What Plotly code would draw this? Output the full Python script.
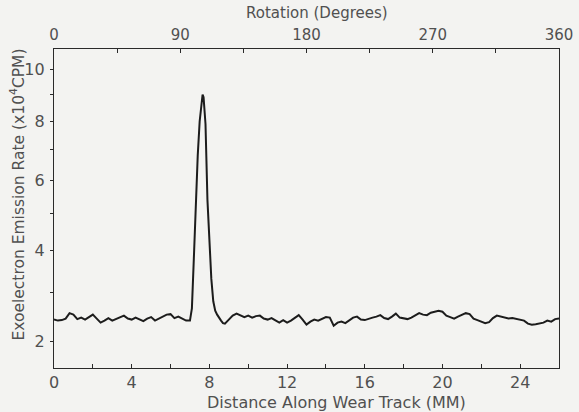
import numpy as np
import plotly.graph_objects as go

# Distance along wear track (mm) and exoelectron emission rate (x10^4 CPM)
distance_mm = [
    0.0, 0.2, 0.4, 0.6, 0.8, 1.0, 1.2, 1.4, 1.6, 1.8, 2.0, 2.2, 2.4, 2.6, 2.8,
    3.0, 3.2, 3.4, 3.6, 3.8, 4.0, 4.2, 4.4, 4.6, 4.8, 5.0, 5.2, 5.4, 5.6, 5.8,
    6.0, 6.2, 6.4, 6.6, 6.8, 7.0, 7.1, 7.2, 7.3, 7.4, 7.5, 7.6, 7.65, 7.7, 7.8,
    7.9, 8.0, 8.1, 8.2, 8.3, 8.4, 8.5, 8.6, 8.7, 8.8, 9.0, 9.2, 9.4, 9.6, 9.8,
    10.0, 10.2, 10.4, 10.6, 10.8, 11.0, 11.2, 11.4, 11.6, 11.8, 12.0, 12.2,
    12.4, 12.6, 12.8, 13.0, 13.2, 13.4, 13.6, 13.8, 14.0, 14.2, 14.4, 14.6,
    14.8, 15.0, 15.2, 15.4, 15.6, 15.8, 16.0, 16.2, 16.4, 16.6, 16.8, 17.0,
    17.2, 17.4, 17.6, 17.8, 18.0, 18.2, 18.4, 18.6, 18.8, 19.0, 19.2, 19.4,
    19.6, 19.8, 20.0, 20.2, 20.4, 20.6, 20.8, 21.0, 21.2, 21.4, 21.6, 21.8,
    22.0, 22.2, 22.4, 22.6, 22.8, 23.0, 23.2, 23.4, 23.6, 23.8, 24.0, 24.2,
    24.4, 24.6, 24.8, 25.0, 25.2, 25.4, 25.6, 25.8, 26.0,
]
emission_rate = [
    2.42, 2.40, 2.41, 2.44, 2.55, 2.52, 2.43, 2.46, 2.42, 2.47, 2.52, 2.44, 2.36, 2.40, 2.45,
    2.40, 2.43, 2.47, 2.50, 2.44, 2.42, 2.46, 2.43, 2.39, 2.44, 2.47, 2.40, 2.44, 2.48, 2.52,
    2.53, 2.45, 2.48, 2.44, 2.40, 2.40, 2.65, 3.8, 5.4, 6.8, 8.0, 8.7, 9.0, 8.9, 7.9,
    5.4, 4.2, 3.3, 2.8, 2.6, 2.52, 2.45, 2.40, 2.35, 2.34, 2.42, 2.50, 2.54, 2.50, 2.47,
    2.50, 2.46, 2.49, 2.50, 2.44, 2.42, 2.45, 2.40, 2.36, 2.41, 2.36, 2.40,
    2.46, 2.51, 2.42, 2.32, 2.38, 2.42, 2.40, 2.44, 2.47, 2.46, 2.30, 2.36,
    2.38, 2.35, 2.40, 2.46, 2.48, 2.42, 2.41, 2.44, 2.46, 2.48, 2.51, 2.45,
    2.43, 2.48, 2.54, 2.46, 2.44, 2.43, 2.46, 2.50, 2.55, 2.52, 2.51, 2.56,
    2.58, 2.60, 2.58, 2.50, 2.47, 2.44, 2.48, 2.52, 2.55, 2.53, 2.44, 2.41,
    2.38, 2.35, 2.37, 2.45, 2.50, 2.48, 2.46, 2.44, 2.45, 2.43, 2.42, 2.40,
    2.34, 2.32, 2.33, 2.34, 2.36, 2.40, 2.38, 2.43, 2.44,
]

y_major = [2, 4, 6, 8, 10]
y_minor = [3, 5, 7, 9]
rotation_ticks = [0, 90, 180, 270, 360]

BG = "#f3f3f1"
INK = "#2a2a2a"
TEXT = "#505050"
FONT = "DejaVu Sans"

# the original y axis is a square-root scale; plot sqrt(value) on a linear axis
fig = go.Figure()
fig.add_trace(go.Scatter(
    x=distance_mm,
    y=np.sqrt(emission_rate),
    mode="lines",
    line=dict(color="#1c1c1c", width=2),
    showlegend=False,
))
# invisible trace to activate the top rotation axis
fig.add_trace(go.Scatter(
    x=[rotation_ticks[0], rotation_ticks[-1]], y=[np.nan, np.nan],
    xaxis="x2", mode="lines", showlegend=False, hoverinfo="skip",
))

fig.update_layout(
    width=579, height=412,
    paper_bgcolor=BG, plot_bgcolor=BG,
    font=dict(family=FONT, color=TEXT),
    margin=dict(l=54, r=20, t=49, b=44, autoexpand=False),
    xaxis=dict(
        range=[0, 26], tickvals=[0, 4, 8, 12, 16, 20, 24],
        ticks="inside", ticklen=4, tickcolor=INK,
        minor=dict(dtick=2, ticks="inside", ticklen=4, tickcolor=INK),
        showline=True, linecolor=INK, linewidth=1.2,
        showgrid=False, zeroline=False, automargin=False,
        tickfont=dict(size=16, color=TEXT),
    ),
    xaxis2=dict(
        overlaying="x", side="top", range=[0, 360], tickvals=rotation_ticks,
        ticks="inside", ticklen=4, tickcolor=INK,
        minor=dict(dtick=45, ticks="inside", ticklen=4, tickcolor=INK),
        showline=True, linecolor=INK, linewidth=1.2,
        showgrid=False, zeroline=False, automargin=False,
        tickfont=dict(size=15, color=TEXT), ticklabelstandoff=2,
    ),
    yaxis=dict(
        range=[1.245, 3.292],
        tickvals=np.sqrt(y_major), ticktext=[str(v) for v in y_major],
        ticks="outside", ticklen=3, tickcolor=INK,
        minor=dict(tickvals=np.sqrt(y_minor), ticks="outside", ticklen=3, tickcolor=INK),
        showline=True, linecolor=INK, linewidth=1.2, mirror=True,
        showgrid=False, zeroline=False, automargin=False,
        tickfont=dict(size=16, color=TEXT), ticklabelstandoff=2,
    ),
    annotations=[
        dict(text="Rotation (Degrees)", xref="paper", yref="paper",
             x=0.521, y=1.0, yshift=36, showarrow=False,
             xanchor="center", yanchor="middle", font=dict(size=15, color=TEXT)),
        dict(text="Distance Along Wear Track (MM)", xref="paper", yref="paper",
             x=0.559, y=0.0, yshift=-34, showarrow=False,
             xanchor="center", yanchor="middle", font=dict(size=16, color=TEXT)),
        dict(text="Exoelectron Emission Rate (x10<sup>4</sup>CPM)", xref="paper", yref="paper",
             x=0.0, xshift=-36, y=0.5, yshift=14, textangle=-90, showarrow=False,
             xanchor="center", yanchor="middle", font=dict(size=15.5, color=TEXT)),
    ],
)

# drop the browser's default body margin so the figure sits at the page corner
fig.write_html(
    "out.html",
    config={"displayModeBar": False},
    post_script=f"document.body.style.margin='0';document.body.style.background='{BG}';",
)
